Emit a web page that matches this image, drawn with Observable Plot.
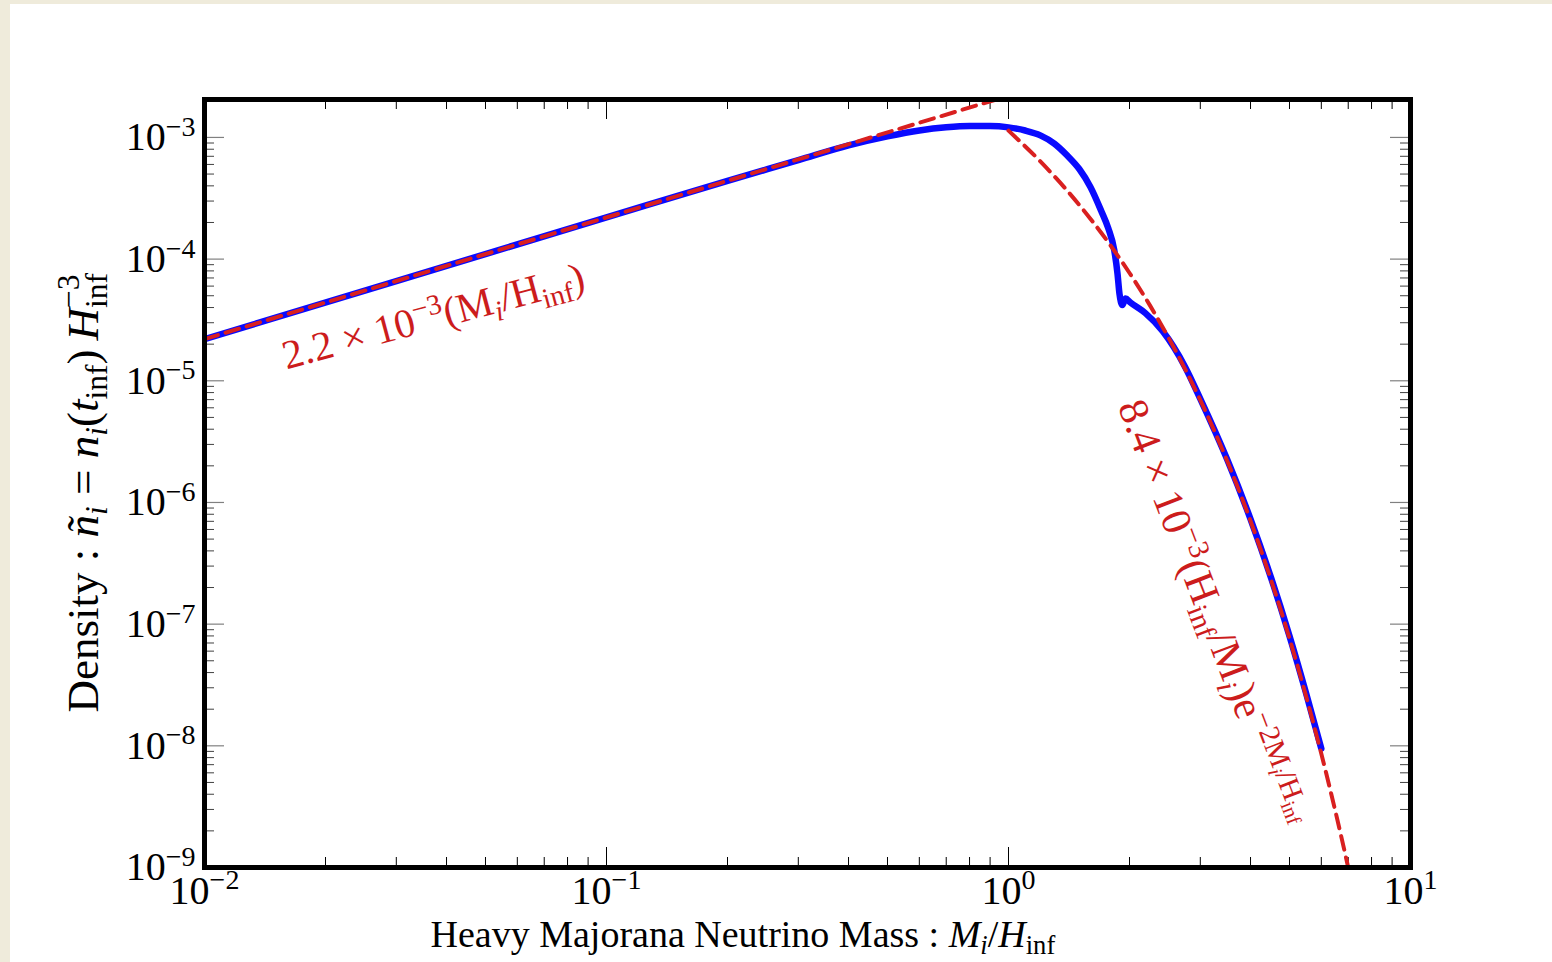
<!DOCTYPE html>
<html><head><meta charset="utf-8">
<script src="https://cdn.jsdelivr.net/npm/d3@7"></script>
<script src="https://cdn.jsdelivr.net/npm/@observablehq/plot@0.6"></script>
<style>
html,body{margin:0;padding:0;background:#efebdb;width:1552px;height:962px;overflow:hidden;}
#wrap{position:absolute;left:10px;top:4px;width:1542px;height:958px;background:#fff;}
svg{display:block}
</style></head><body><div id="wrap"></div>
<script>
// ---- data ----
const blueX = [0.01, 0.03, 0.1, 0.2, 0.3, 0.4, 0.5, 0.6, 0.7, 0.8, 0.9, 1.0, 1.1, 1.2, 1.3, 1.4, 1.5, 1.6, 1.7, 1.77, 1.833, 1.867, 1.888, 1.92, 1.955, 2.01, 2.19, 2.42, 2.75, 3.0, 3.5, 4.0, 4.5, 5.0, 5.5, 6.0];
const blueY = [2.2e-5, 6.6e-5, 2.2e-4, 4.4e-4, 6.5e-4, 8.6e-4, 1.02e-3, 1.14e-3, 1.21e-3, 1.24e-3, 1.24e-3, 1.21e-3, 1.14e-3, 1.04e-3, 8.9e-4, 7.1e-4, 5.5e-4, 3.9e-4, 2.5e-4, 1.8e-4, 1.18e-4, 7.6e-5, 5.2e-5, 4.2e-5, 4.75e-5, 4.4e-5, 3.6e-5, 2.55e-5, 1.3e-5, 7.1e-6, 2.25e-6, 7.3e-7, 2.4e-7, 8.0e-8, 2.7e-8, 9.5e-9];

const powerX = [0.01, 1.0];
const powerY = [2.2e-5, 2.2e-3];

const expX = [1.0, 1.2, 1.4, 1.6, 1.8, 2.0, 2.25, 2.5, 2.75, 3.0, 3.5, 4.0, 4.5, 5.0, 5.5, 6.0, 6.5, 7.0, 7.2];
const expY = [1.137e-3, 6.35e-4, 3.649e-4, 2.14e-4, 1.275e-4, 7.69e-5, 4.147e-5, 2.264e-5, 1.248e-5, 6.94e-6, 2.19e-6, 7.05e-7, 2.30e-7, 7.63e-8, 2.55e-8, 8.6e-9, 2.92e-9, 9.98e-10, 6.5e-10];

const xMajor = [0.01, 0.1, 1, 10];
const xMajorExp = ["−2", "−1", "0", "1"];
const xMinor = [0.02,0.03,0.04,0.05,0.06,0.07,0.08,0.09, 0.2,0.3,0.4,0.5,0.6,0.7,0.8,0.9, 2,3,4,5,6,7,8,9];
const yMajor = [1e-9, 1e-8, 1e-7, 1e-6, 1e-5, 1e-4, 1e-3];
const yMajorExp = ["−9", "−8", "−7", "−6", "−5", "−4", "−3"];
const yMinor = [];
for (const d of [1e-9,1e-8,1e-7,1e-6,1e-5,1e-4,1e-3]) for (const m of [2,3,4,5,6,7,8,9]) { const v = +(m*d).toPrecision(3); if (v < 2.05e-3) yMinor.push(v); }

// ---- layout ----
const W = 1542, H = 958, mL = 194, mR = 142, mT = 95, mB = 95;
const iW = W - mL - mR, iH = H - mT - mB;
const FONT = "Liberation Serif";
const RED = "#d92020", RED_T = "#cc1c1c";

// rich-text segments: [text, sizeFactor, raise(em of base), italic, dx]
const N = t => [t, 1, 0, false];
const I = t => [t, 1, 0, true];
const SUP = (t, it=false) => [t, 0.7, 0.36, it];
const SUB = (t, it=false) => [t, 0.7, -0.2, it];

const rich = {};
xMajorExp.forEach((e, i) => rich["XT"+i] = {size: 40, segs: [N("10"), SUP(e)]});
yMajorExp.forEach((e, i) => rich["YT"+i] = {size: 40, segs: [N("10"), SUP(e)]});
rich.XLAB = {size: 38, segs: [N("Heavy Majorana Neutrino Mass : "), I("M"), SUB("i", true), N("/"), I("H"), SUB("inf")]};
rich.YLAB = {size: 45, segs: [N("Density : "), I("ñ"), SUB("i", true), N(" = "), I("n"), SUB("i", true), N("("), I("t"), SUB("inf"), N(")\u2009"), I("H"), SUB("inf"), ["−3", 0.7, 0.42, false, -35]]};
rich.ANN1 = {size: 41, segs: [N("2.2 × 10"), SUP("−3"), N("(M"), SUB("i", true), N("/H"), SUB("inf"), N(")")]};
rich.ANN2 = {size: 42, segs: [N("8.4 × 10"), SUP("−3"), N("(H"), SUB("inf"), N("/M"), SUB("i", true), N(")e"), SUP("−2M"), ["i", 0.5, 0.22, true], ["/H", 0.7, 0.36, false], ["inf", 0.5, 0.22, false]]};

const blue = blueX.map((x, i) => ({x, y: blueY[i]}));
const power = powerX.map((x, i) => ({x, y: powerY[i]}));
const expo = expX.map((x, i) => ({x, y: expY[i]}));

const plot = Plot.plot({
  width: W, height: H, marginLeft: mL, marginRight: mR, marginTop: mT, marginBottom: mB,
  x: {type: "log", domain: [0.01, 10], axis: null},
  y: {type: "log", domain: [1e-9, 2.05e-3], axis: null},
  style: {fontFamily: FONT, background: "white", overflow: "visible", color: "black"},
  marks: [
    // y ticks (left & right, inward)
    Plot.ruleY(yMajor, {y: d => d, insetRight: iW - 20, stroke: "#808080", strokeWidth: 1.2}),
    Plot.ruleY(yMinor, {y: d => d, insetRight: iW - 10, stroke: "#404040", strokeWidth: 1}),
    Plot.ruleY(yMajor, {y: d => d, insetLeft: iW - 20, stroke: "#808080", strokeWidth: 1.2}),
    Plot.ruleY(yMinor, {y: d => d, insetLeft: iW - 10, stroke: "#404040", strokeWidth: 1}),
    // x ticks (bottom & top, inward)
    Plot.ruleX(xMajor, {x: d => d, insetTop: iH - 20, stroke: "black", strokeWidth: 1}),
    Plot.ruleX(xMinor, {x: d => d, insetTop: iH - 10, stroke: "black", strokeWidth: 1}),
    Plot.ruleX(xMajor, {x: d => d, insetBottom: iH - 20, stroke: "black", strokeWidth: 1}),
    Plot.ruleX(xMinor, {x: d => d, insetBottom: iH - 10, stroke: "black", strokeWidth: 1}),
    // curves
    Plot.line(blue, {x: "x", y: "y", stroke: "#0a0aff", strokeWidth: 6.5, curve: "monotone-x", strokeLinejoin: "round", clip: true}),
    Plot.line(power, {x: "x", y: "y", stroke: RED, strokeWidth: 4, strokeDasharray: "14,8", clip: true}),
    Plot.line(expo, {x: "x", y: "y", stroke: RED, strokeWidth: 4, strokeDasharray: "14,8", curve: "monotone-x", clip: true}),
    Plot.frame({stroke: "black", strokeWidth: 5}),
    // tick labels
    Plot.text(xMajor, {x: d => d, frameAnchor: "bottom", text: (d, i) => "XT" + i, textAnchor: "middle", lineAnchor: "bottom", dy: 36, fontSize: 40, fill: "black"}),
    Plot.text(yMajor, {y: d => d, frameAnchor: "left", text: (d, i) => "YT" + i, textAnchor: "end", lineAnchor: "middle", dx: -9, fontSize: 40, fill: "black"}),
    // axis titles
    Plot.text(["XLAB"], {frameAnchor: "bottom-left", text: d => d, textAnchor: "start", lineAnchor: "bottom", dx: 226, dy: 79, fontSize: 38, fill: "black"}),
    Plot.text(["YLAB"], {frameAnchor: "bottom-left", text: d => d, textAnchor: "start", lineAnchor: "bottom", rotate: -90, dx: -107, dy: -155, fontSize: 45, fill: "black"}),
    // annotations
    Plot.text([{x: 0.016, y: 1.24e-5}], {x: "x", y: "y", text: () => "ANN1", textAnchor: "start", lineAnchor: "bottom", rotate: -15, fontSize: 41, fill: RED_T}),
    Plot.text([{x: 1.867, y: 6.17e-6}], {x: "x", y: "y", text: () => "ANN2", textAnchor: "start", lineAnchor: "bottom", rotate: 69, fontSize: 42, fill: RED_T})
  ]
});

// convert placeholder keys to rich text (tspans with sub/superscripts)
const NS = "http://www.w3.org/2000/svg";
plot.querySelectorAll("text").forEach(el => {
  const r = rich[el.textContent];
  if (!r) return;
  el.textContent = "";
  let cur = 0;
  for (const [t, k, up, it, dx] of r.segs) {
    const ts = document.createElementNS(NS, "tspan");
    ts.textContent = t;
    if (k !== 1) ts.setAttribute("font-size", (r.size * k).toFixed(1));
    const target = -up * r.size;
    if (target !== cur) { ts.setAttribute("dy", (target - cur).toFixed(2)); cur = target; }
    if (dx) ts.setAttribute("dx", dx);
    if (it) ts.setAttribute("font-style", "italic");
    el.appendChild(ts);
  }
});

document.getElementById("wrap").appendChild(plot);
</script></body></html>
